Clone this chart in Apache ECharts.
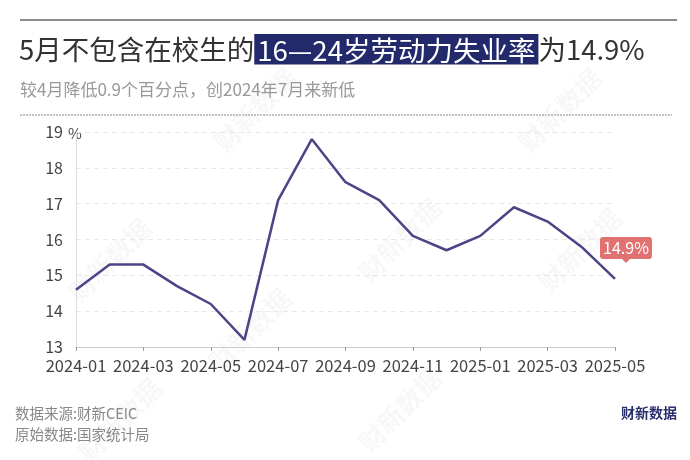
<!DOCTYPE html>
<html><head><meta charset="utf-8">
<script src="https://cdn.jsdelivr.net/npm/echarts@6/dist/echarts.min.js"></script>
<style>html,body{margin:0;padding:0;background:#fff}#c{width:690px;height:460px}</style>
</head><body><div id="c"></div>
<script>
const months = ['2024-01','2024-02','2024-03','2024-04','2024-05','2024-06','2024-07','2024-08','2024-09','2024-10','2024-11','2024-12','2025-01','2025-02','2025-03','2025-04','2025-05'];
const rates = [14.6,15.3,15.3,14.7,14.2,13.2,17.1,18.8,17.6,17.1,16.1,15.7,16.1,16.9,16.5,15.8,14.9];
const yTicks = [13,14,15,16,17,18,19];
const titleA = '5月不包含在校生的';
const titleB = '16—24岁劳动力失业率';
const titleC = '为14.9%';
const subtitle = '较4月降低0.9个百分点，创2024年7月来新低';
const source1 = '数据来源:财新CEIC';
const source2 = '原始数据:国家统计局';
const brand = '财新数据';
const lastLabel = rates[rates.length-1] + '%';

const FF = '"Noto Sans CJK SC","Noto Sans",sans-serif';
const chart = echarts.init(document.getElementById('c'));
const wm = [];
[[255,110],[560,110],[110,260],[400,240],[580,250],[250,330],[120,420],[400,410]].forEach(p=>{
  wm.push({type:'text', x:p[0], y:p[1], rotation:Math.PI/4, silent:true, z:-1,
    style:{text:brand, font:'bold 26px '+FF, fill:'rgba(0,0,0,0.03)', align:'center', verticalAlign:'middle'}});
});
chart.setOption({
  animation:false,
  backgroundColor:'#fff',
  title:[{
    text: titleA + '{h|' + titleB + '}' + titleC,
    left: 14, top: 29,
    textStyle:{fontSize:27.5, fontWeight:'normal', color:'#333', fontFamily:FF,
      rich:{h:{fontSize:27.5, color:'#fff', backgroundColor:'#222a6b', padding:[3,3,0,3], fontFamily:FF}}}
  },{
    text: subtitle, left: 15, top: 76,
    textStyle:{fontSize:17, fontWeight:'normal', color:'#999', fontFamily:FF}
  }],
  graphic: wm.concat([
    {type:'line', shape:{x1:20,y1:20,x2:677,y2:20}, style:{stroke:'#666', lineWidth:1.5}},
    {type:'line', shape:{x1:20,y1:115,x2:672,y2:115}, style:{stroke:'#888', lineWidth:1, lineDash:[2,1]}},
    {type:'text', x:68, y:133, style:{text:'%', font:'15px '+FF, fill:'#444', verticalAlign:'middle'}},
    {type:'text', x:15, y:413, style:{text:source1, font:'14.5px '+FF, fill:'#888', verticalAlign:'middle'}},
    {type:'text', x:15, y:434, style:{text:source2, font:'14.5px '+FF, fill:'#888', verticalAlign:'middle'}},
    {type:'text', x:677, y:413, style:{text:brand, font:'bold 14px '+FF, fill:'#2a2f6e', align:'right', verticalAlign:'middle'}}
  ]),
  grid:{left:76, right:75, top:132, bottom:113, containLabel:false},
  xAxis:{
    type:'category', data:months, boundaryGap:false,
    axisLine:{lineStyle:{color:'#ccc'}},
    axisTick:{show:true, interval:1, length:4, lineStyle:{color:'#999'}},
    axisLabel:{interval:1, color:'#444', fontSize:16.5, fontFamily:FF, margin:10},
    splitLine:{show:false}
  },
  yAxis:{
    type:'value', min:yTicks[0], max:yTicks[yTicks.length-1], interval:1,
    axisLine:{show:true, lineStyle:{color:'#ddd'}},
    axisTick:{show:false},
    axisLabel:{color:'#444', fontSize:16, fontFamily:FF, margin:13},
    splitLine:{lineStyle:{color:'#e8e8e8', type:[5,4]}}
  },
  series:[{
    type:'line', data:rates, symbol:'none', smooth:false,
    lineStyle:{color:'#4b4586', width:2.5},
    markPoint:{
      data:[{coord:[months.length-1, rates[rates.length-1]], value:rates[rates.length-1]}],
      symbol:'path://M3,0 L49,0 Q52,0 52,3 L52,19 Q52,22 49,22 L30,22 L26,26 L22,22 L3,22 Q0,22 0,19 L0,3 Q0,0 3,0 Z',
      symbolSize:[52,26], symbolOffset:[11,-29],
      itemStyle:{color:'#e07272'},
      label:{show:true, position:'inside', color:'#fff', fontSize:16, fontFamily:FF,
        formatter:function(){return lastLabel;}, offset:[0,-2]}
    }
  }]
});
</script></body></html>
